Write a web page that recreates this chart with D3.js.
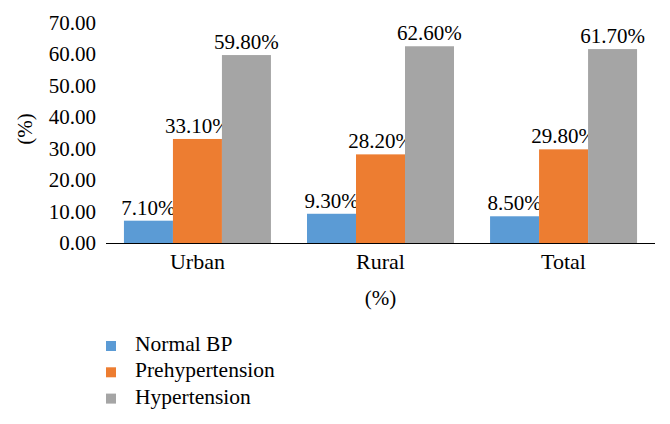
<!DOCTYPE html>
<html><head><script src="https://cdn.jsdelivr.net/npm/d3@7"></script></head>
<body style="margin:0">
<svg width="670" height="424" id="c"></svg>
<script>
const categories = ["Urban", "Rural", "Total"];
const seriesNames = ["Normal BP", "Prehypertension", "Hypertension"];
const normalBP = [7.1, 9.3, 8.5];
const prehypertension = [33.1, 28.2, 29.8];
const hypertension = [59.8, 62.6, 61.7];
const yTicks = [0, 10, 20, 30, 40, 50, 60, 70];
const colors = ["#5B9BD5", "#ED7D31", "#A5A5A5"];
const seriesValues = [normalBP, prehypertension, hypertension];

const svg = d3.select("#c");
const x0 = d3.scaleBand().domain(categories).range([106, 655]).paddingInner(0.197).paddingOuter(0.098);
const x1 = d3.scaleBand().domain(seriesNames).range([0, x0.bandwidth()]);
const y = d3.scaleLinear().domain([0, 70]).range([243, 23]);

function txt(sel, size) {
  return sel.style("font-family", d => `"Liberation Serif"`).style("font-size", size + "px");
}

// y tick labels
txt(svg.append("g").selectAll("text").data(yTicks).join("text")
  .attr("x", 96).attr("y", d => y(d) + 7)
  .attr("text-anchor", "end"), 21)
  .text(d => d.toFixed(2));

// bars
const g = svg.append("g");
categories.forEach((c, ci) => {
  seriesNames.forEach((s, si) => {
    const v = seriesValues[si][ci];
    g.append("rect").attr("x", x0(c) + x1(s)).attr("width", x1.bandwidth())
      .attr("y", y(v)).attr("height", y(0) - y(v)).attr("fill", colors[si]);
    txt(g.append("text").attr("x", x0(c) + x1(s) + x1.bandwidth() / 2).attr("y", y(v) - 6)
      .attr("text-anchor", "middle"), 21)
      .text(v.toFixed(2) + "%");
  });
});

// x axis line
svg.append("line").attr("x1", 106).attr("x2", 655).attr("y1", y(0) + 0.5).attr("y2", y(0) + 0.5)
  .attr("stroke", "#000").attr("stroke-width", 1.2);

// category labels
txt(svg.append("g").selectAll("text").data(categories).join("text")
  .attr("x", d => x0(d) + x0.bandwidth() / 2).attr("y", 269)
  .attr("text-anchor", "middle"), 22).text(d => d);

// axis titles
txt(svg.append("text").attr("x", x0("Rural") + x0.bandwidth() / 2).attr("y", 305)
  .attr("text-anchor", "middle"), 21).text("(%)");
txt(svg.append("text").attr("transform", "translate(32,129) rotate(-90)")
  .attr("text-anchor", "middle"), 21).text("(%)");

// legend
const lg = svg.append("g").selectAll("g").data(seriesNames).join("g")
  .attr("transform", (d, i) => `translate(106,${341 + i * 26.3})`);
lg.append("rect").attr("width", 10).attr("height", 10).attr("fill", (d, i) => colors[i]);
txt(lg.append("text").attr("x", 29).attr("y", 10), 21.5).text(d => d);
</script></body></html>
